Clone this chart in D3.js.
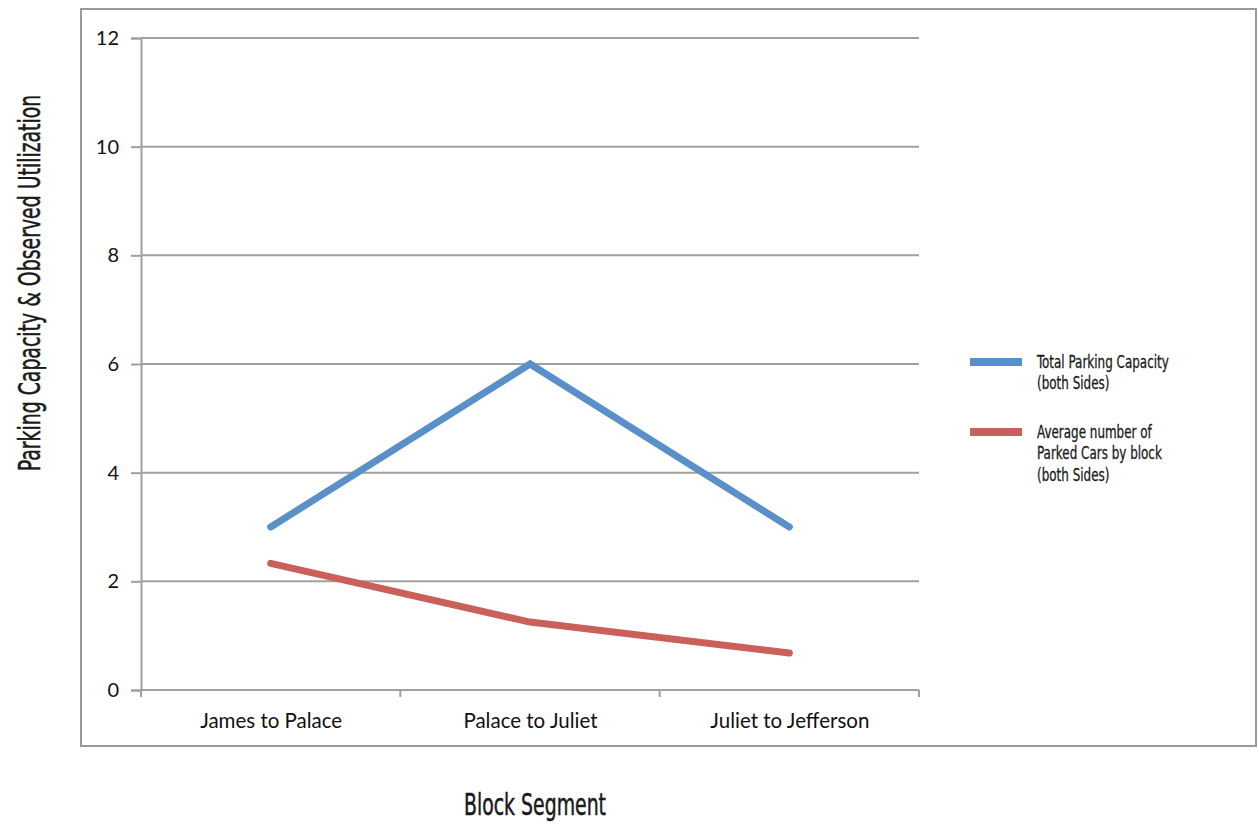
<!DOCTYPE html>
<html><head><meta charset="utf-8">
<script src="https://cdn.jsdelivr.net/npm/d3@7"></script>
<style>
body{margin:0;background:#fff;}
svg{display:block;}
.tick text{font-family:Lato,"Open Sans",sans-serif;}
.cond{font-family:"DejaVu Sans Condensed","DejaVu Sans",sans-serif;}
</style></head>
<body>
<script>
const categories = ["James to Palace", "Palace to Juliet", "Juliet to Jefferson"];
const capacity = [3, 6, 3];
const parked = [2.33, 1.25, 0.68];
const yTicks = [0, 2, 4, 6, 8, 10, 12];
const seriesNames = [["Total Parking Capacity", "(both Sides)"], ["Average number of", "Parked Cars by block", "(both Sides)"]];
const colors = ["#5A90C9", "#C9605A"];

const W = 1259, H = 825;
const svg = d3.select("body").append("svg").attr("width", W).attr("height", H);

svg.append("rect").attr("x", 81).attr("y", 9).attr("width", 1175).attr("height", 737)
  .attr("fill", "none").attr("stroke", "#9a9a9a").attr("stroke-width", 2);

const L = 141, R = 919, T = 38, B = 690;
const x = d3.scaleBand().domain(categories).range([L, R]);
const y = d3.scaleLinear().domain([0, 12]).range([B, T]);
const cx = d => x(d) + x.bandwidth() / 2;

// gridlines
svg.append("g").selectAll("line").data(yTicks.filter(d => d > 0)).join("line")
  .attr("x1", L).attr("x2", R).attr("y1", d => y(d)).attr("y2", d => y(d))
  .attr("stroke", "#a0a0a0").attr("stroke-width", 2);

// y axis
const ya = svg.append("g").attr("transform", `translate(${L},0)`)
  .call(d3.axisLeft(y).tickValues(yTicks).tickSize(10).tickPadding(12));
ya.select(".domain").attr("stroke", "#a0a0a0").attr("stroke-width", 2);
ya.selectAll(".tick line").attr("stroke", "#a0a0a0").attr("stroke-width", 2);
ya.selectAll(".tick text").attr("font-size", 20).attr("fill", "#111");

// x axis
const bounds = [L].concat(categories.map(c => x(c) + x.bandwidth()));
const xa = svg.append("g").attr("transform", `translate(0,${B})`)
  .call(d3.axisBottom(d3.scalePoint().domain(categories).range([cx(categories[0]), cx(categories[2])])).tickSize(0).tickPadding(23));
xa.select(".domain").remove();
xa.selectAll(".tick text").attr("font-size", 20.5).attr("fill", "#111");
svg.append("line").attr("x1", L).attr("x2", R).attr("y1", B).attr("y2", B)
  .attr("stroke", "#a0a0a0").attr("stroke-width", 2);
svg.append("g").selectAll("line").data(bounds).join("line")
  .attr("x1", d => d).attr("x2", d => d).attr("y1", B).attr("y2", B + 7)
  .attr("stroke", "#a0a0a0").attr("stroke-width", 2);

// lines
const line = d3.line().x((d, i) => cx(categories[i])).y(d => y(d));
[capacity, parked].forEach((s, i) => {
  svg.append("path").datum(s).attr("d", line).attr("fill", "none")
    .attr("stroke", colors[i]).attr("stroke-width", 7)
    .attr("stroke-linecap", "round").attr("stroke-linejoin", "miter");
});

// legend
const legY = [362, 432];
seriesNames.forEach((lines, i) => {
  svg.append("rect").attr("x", 970).attr("y", legY[i] - 4).attr("width", 52).attr("height", 8).attr("fill", colors[i]);
  const t = svg.append("text").attr("class", "cond")
    .attr("transform", `translate(1037,${legY[i] + 6}) scale(0.76,1)`)
    .attr("font-size", 17.5).attr("fill", "#1a1a1a").attr("stroke", "#1a1a1a").attr("stroke-width", 0.3);
  lines.forEach((ln, j) => t.append("tspan").attr("x", 0).attr("dy", j === 0 ? 0 : 21.5).text(ln));
});

// axis titles
svg.append("text").attr("class", "cond").attr("transform", "translate(40,283) rotate(-90) scale(0.7,1)")
  .attr("text-anchor", "middle").attr("font-size", 30).attr("fill", "#1a1a1a")
  .attr("stroke", "#1a1a1a").attr("stroke-width", 0.5)
  .text("Parking Capacity & Observed Utilization");
svg.append("text").attr("class", "cond").attr("transform", "translate(535,815) scale(0.7,1)")
  .attr("text-anchor", "middle").attr("font-size", 30).attr("fill", "#1a1a1a")
  .attr("stroke", "#1a1a1a").attr("stroke-width", 0.5)
  .text("Block Segment");
</script>
</body></html>
